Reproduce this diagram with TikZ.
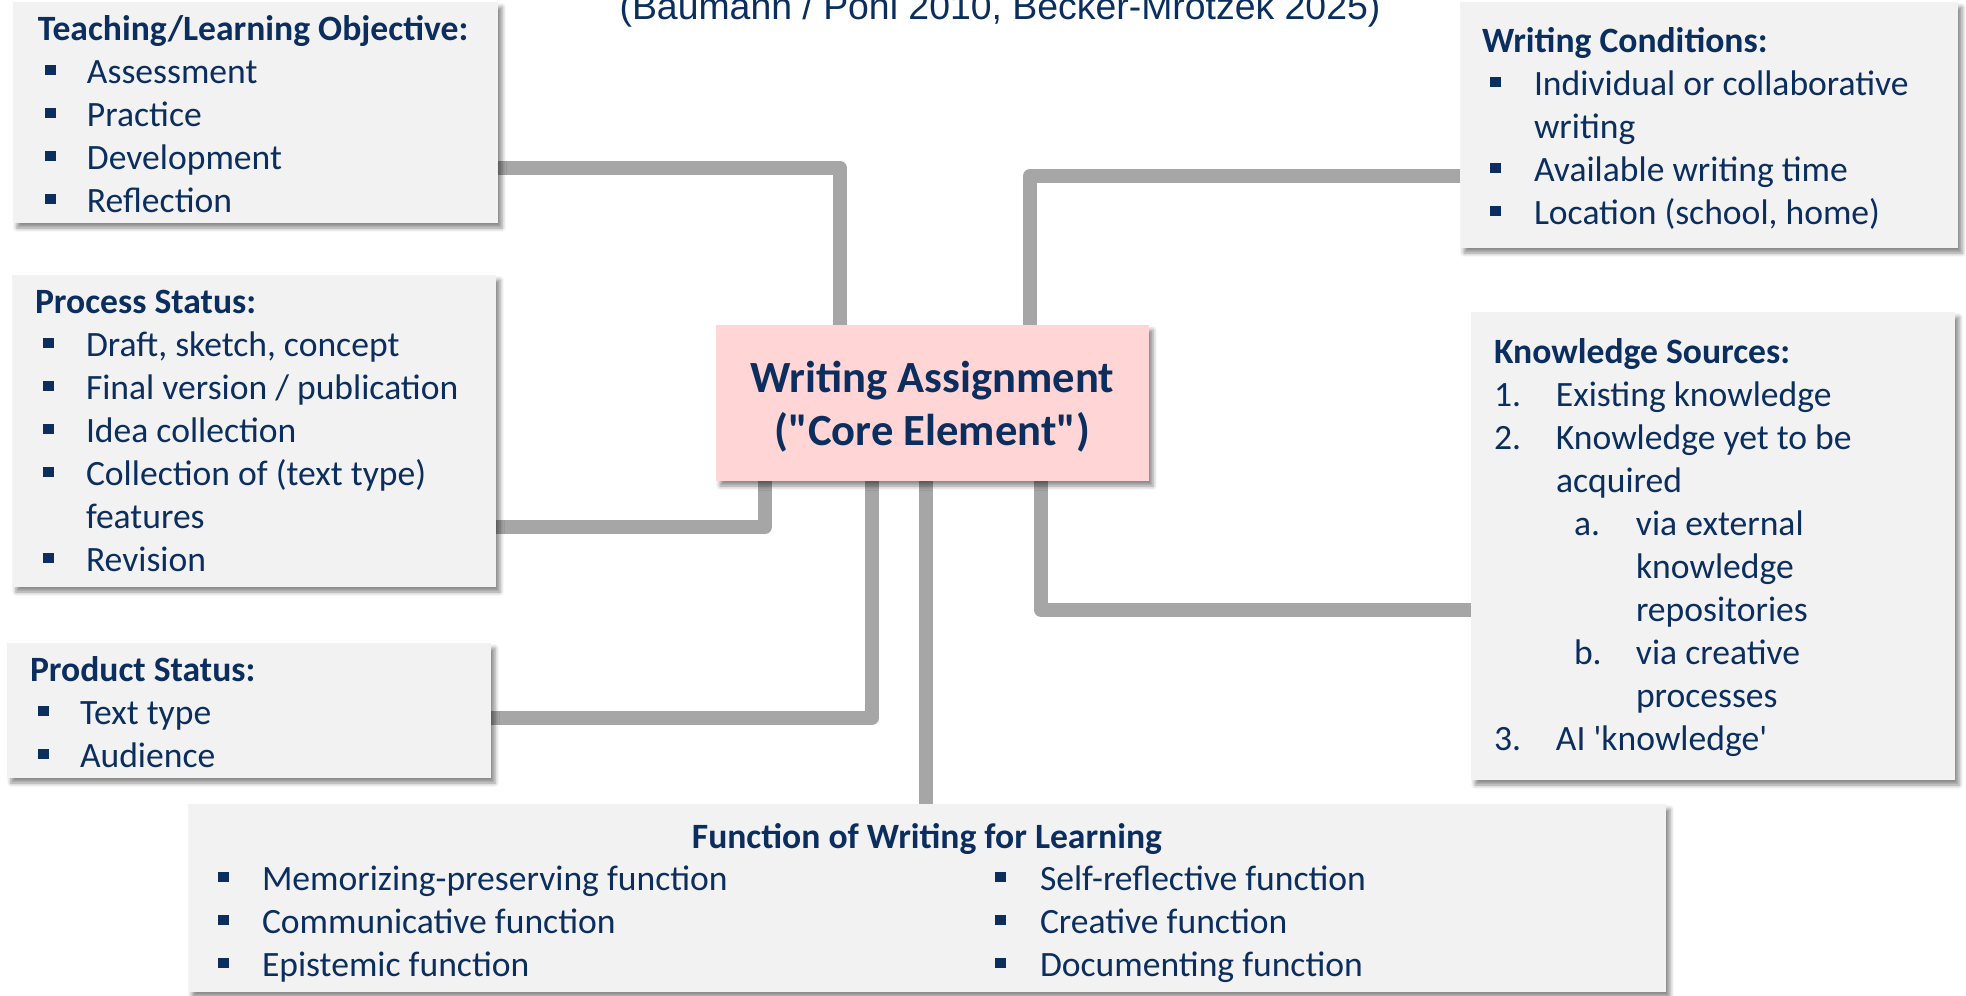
\documentclass[tikz,border=0pt]{standalone}
\usepackage{fontspec}
\setmainfont{Carlito}[Ligatures=TeXOff]
\newfontfamily\titlefont{Liberation Sans}
\usetikzlibrary{shadows.blur}
\definecolor{navy}{HTML}{0B2E5E}
\definecolor{boxfill}{HTML}{F2F2F2}
\definecolor{corefill}{HTML}{FFD5D5}
\definecolor{conncol}{HTML}{A6A6A6}
\pgfdeclarelayer{back}
\pgfsetlayers{back,main}
\newcommand\bul{\rule[4pt]{5.5pt}{5pt}}
\newcommand\bitem[3]{\hbox{\makebox[#2][l]{\hspace*{#1}\bul}#3}}
\newcommand\nitem[3]{\hbox{\hspace*{#1}\makebox[31pt][l]{#2}#3}}
\newcommand\hdr[1]{\hbox{\bfseries #1}}
\newcommand\cont[2]{\hbox{\hspace*{#1}#2}}
\newcommand\vlist[1]{\vtop{\baselineskip=21.5pt #1}}
\newcommand\centerlines[2]{\vtop{\baselineskip=26.5pt\halign{\hfil##\hfil\cr #1\cr #2\cr}}}
\begin{document}
\begin{tikzpicture}[x=0.5pt,y=-0.5pt,
  box/.style={rectangle, fill=boxfill, draw=none, inner sep=0pt, outer sep=0pt, anchor=north west,
    blur shadow={shadow xshift=2pt, shadow yshift=-2.5pt, shadow blur radius=2pt, shadow opacity=45}},
  corebox/.style={box, fill=corefill},
  txt/.style={inner sep=0pt, outer sep=0pt, anchor=base west, text=navy, font=\fontsize{17.8}{21.5}\selectfont},
  conn/.style={draw=conncol, line width=7pt, line join=round}]
\useasboundingbox (0,0) rectangle (1966,996);

% title
\node[inner sep=0pt, anchor=base, text=navy, font=\titlefont\fontsize{18.7}{22}\selectfont] (title) at (1000,19) {(Baumann / Pohl 2010, Becker-Mrotzek 2025)};

% boxes
\node[box, minimum width=242.5pt, minimum height=110.5pt] (teach) at (13,2) {};
\node[box, minimum width=242pt, minimum height=156pt] (proc) at (12,275) {};
\node[box, minimum width=242pt, minimum height=67.5pt] (prod) at (7,643) {};
\node[box, minimum width=249pt, minimum height=123pt] (wc) at (1460,2) {};
\node[box, minimum width=242pt, minimum height=234pt] (know) at (1471,312) {};
\node[box, minimum width=739pt, minimum height=94pt] (func) at (188,804) {};
\node[corebox, minimum width=216.5pt, minimum height=78pt] (core) at (716,325) {};

% texts
\node[txt] (teachtxt) at (38,40) {\vlist{%
  \hdr{Teaching/Learning Objective:}
  \bitem{3.5pt}{24.5pt}{Assessment}
  \bitem{3.5pt}{24.5pt}{Practice}
  \bitem{3.5pt}{24.5pt}{Development}
  \bitem{3.5pt}{24.5pt}{Reflection}}};

\node[txt] (proctxt) at (35,313) {\vlist{%
  \hdr{Process Status:}
  \bitem{4pt}{25.5pt}{Draft, sketch, concept}
  \bitem{4pt}{25.5pt}{Final version / publication}
  \bitem{4pt}{25.5pt}{Idea collection}
  \bitem{4pt}{25.5pt}{Collection of (text type)}
  \cont{25.5pt}{features}
  \bitem{4pt}{25.5pt}{Revision}}};

\node[txt] (prodtxt) at (30,681) {\vlist{%
  \hdr{Product Status:}
  \bitem{4pt}{25pt}{Text type}
  \bitem{4pt}{25pt}{Audience}}};

\node[txt] (wctxt) at (1482,52) {\vlist{%
  \hdr{Writing Conditions:}
  \bitem{4pt}{26pt}{Individual or collaborative}
  \cont{26pt}{writing}
  \bitem{4pt}{26pt}{Available writing time}
  \bitem{4pt}{26pt}{Location (school, home)}}};

\node[txt] (knowtxt) at (1494,363) {\vlist{%
  \hdr{Knowledge Sources:}
  \nitem{0pt}{1.}{Existing knowledge}
  \nitem{0pt}{2.}{Knowledge yet to be}
  \cont{31pt}{acquired}
  \nitem{40pt}{a.}{via external}
  \cont{71pt}{knowledge}
  \cont{71pt}{repositories}
  \nitem{40pt}{b.}{via creative}
  \cont{71pt}{processes}
  \nitem{0pt}{3.}{AI 'knowledge'}}};

\node[txt, anchor=base, font=\fontsize{17.8}{21.5}\selectfont\bfseries] (functitle) at (927,848) {Function of Writing for Learning};
\node[txt] (funcleft) at (218,890) {\vlist{%
  \bitem{0pt}{22pt}{Memorizing-preserving function}
  \bitem{0pt}{22pt}{Communicative function}
  \bitem{0pt}{22pt}{Epistemic function}}};
\node[txt] (funcright) at (995,890) {\vlist{%
  \bitem{0pt}{22.5pt}{Self-reflective function}
  \bitem{0pt}{22.5pt}{Creative function}
  \bitem{0pt}{22.5pt}{Documenting function}}};

\node[inner sep=0pt, anchor=base, text=navy, font=\fontsize{22.3}{24}\selectfont\bfseries] (coretxt) at (932.5,392)
  {\centerlines{Writing Assignment}{("Core Element")}};

% connectors
\coordinate (fa) at ([xshift=-3.25pt]core.south);
\begin{pgfonlayer}{back}
\draw[conn] ([yshift=-27.75pt]teach.east) -| ([xshift=-46.25pt]core.north);
\draw[conn] ([yshift=-25.5pt]wc.west) -| ([xshift=48.75pt]core.north);
\draw[conn] ([yshift=-48pt]proc.east) -| ([xshift=-83.75pt]core.south);
\draw[conn] ([yshift=-3.75pt]prod.east) -| ([xshift=-30.25pt]core.south);
\draw[conn] (fa) -- (fa |- func.north);
\draw[conn] ([xshift=54.25pt]core.south) |- ([yshift=-32pt]know.west);
\end{pgfonlayer}
\end{tikzpicture}
\end{document}
